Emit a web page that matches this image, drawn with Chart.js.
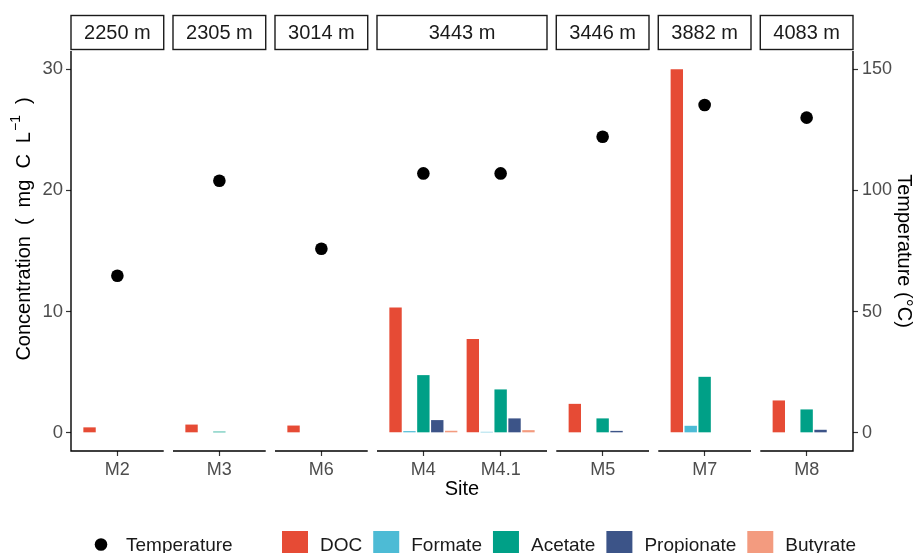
<!DOCTYPE html>
<html>
<head>
<meta charset="utf-8">
<script src="https://cdn.jsdelivr.net/npm/chart.js@4/dist/chart.umd.min.js"></script>
<style>
  html, body { margin: 0; padding: 0; background: #ffffff; }
  #wrap { width: 916px; height: 553px; }
</style>
</head>
<body>
<div id="wrap"><canvas id="c" width="916" height="553"></canvas></div>
<script>
// ---- data -------------------------------------------------------------
const sites = ['M2', 'M3', 'M6', 'M4', 'M4.1', 'M5', 'M7', 'M8'];
const depthLabels = ['2250 m', '2305 m', '3014 m', '3443 m', '3446 m', '3882 m', '4083 m'];
const panelSites = [['M2'], ['M3'], ['M6'], ['M4', 'M4.1'], ['M5'], ['M7'], ['M8']];

// temperature (°C), right axis
const temperature = [64.8, 104.0, 75.9, 107.0, 107.0, 122.1, 135.2, 130.0];
// concentrations (mg C L-1), left axis
const doc        = [0.45, 0.68, 0.60, 10.34, 7.75, 2.39, 30.0, 2.67];
const formate    = [null, null, null, 0.14, 0.08, null, 0.58, null];
const acetate    = [null, 0.10, null, 4.76, 3.58, 1.19, 4.62, 1.93];
const propionate = [null, null, null, 1.05, 1.19, 0.16, null, 0.25];
const butyrate   = [null, null, null, 0.17, 0.22, null, null, null];

const concTicks = [0, 10, 20, 30];
const tempTicks = [0, 50, 100, 150];

// ---- styling ------------------------------------------------------------
const seriesNames = ['DOC', 'Formate', 'Acetate', 'Propionate', 'Butyrate'];
const seriesValues = [doc, formate, acetate, propionate, butyrate];
const seriesColors = ['#E64B35', '#4DBBD5', '#00A087', '#3C5488', '#F39B7F'];
const FONT = "'Liberation Sans', Arial, Helvetica, sans-serif";
const TEXT_GREY = '#4d4d4d';

// ---- facet layout in x-axis units ---------------------------------------
const EXPAND = 0.6;   // padding each side of a panel's categories
const GAP = 0.12;     // space between panels
const DODGE = 0.18;   // spacing of dodged bars
const siteX = {};
const panels = [];
let cursor = 0;
panelSites.forEach((list, p) => {
  const left = cursor;
  list.forEach((s, i) => { siteX[s] = left + EXPAND + i; });
  const right = left + 2 * EXPAND + list.length - 1;
  panels.push({ left, right, label: depthLabels[p] });
  cursor = right + GAP;
});
const xMax = cursor - GAP;

// ---- datasets -----------------------------------------------------------
const barSets = seriesNames.map((name, k) => ({
  type: 'bar',
  label: name,
  data: sites.map((s, i) => ({ x: siteX[s] + (k - 2) * DODGE, y: seriesValues[k][i] })),
  backgroundColor: seriesColors[k],
  borderWidth: 0,
  grouped: false,
  categoryPercentage: 1,
  barPercentage: 0.89,
  yAxisID: 'y',
  order: 1
}));

const tempSet = {
  type: 'scatter',
  label: 'Temperature',
  data: sites.map((s, i) => ({ x: siteX[s], y: temperature[i] })),
  backgroundColor: '#000000',
  borderWidth: 0,
  pointRadius: 6.3,
  pointHoverRadius: 6.3,
  yAxisID: 'y2',
  order: 0
};

// left axis title, with a raised exponent on L
function drawConcTitle(ctx, cx, cy) {
  const big = '20px ' + FONT;
  const small = '14px ' + FONT;
  const gap = 11;
  const tokens = [
    { t: 'Concentration', f: big, dy: 0, after: gap },
    { t: '(', f: big, dy: 0, after: gap },
    { t: 'mg', f: big, dy: 0, after: gap },
    { t: 'C', f: big, dy: 0, after: gap },
    { t: 'L', f: big, dy: 0, after: 1 },
    { t: '\u22121', f: small, dy: -8, after: gap },
    { t: ')', f: big, dy: 0, after: 0 }
  ];
  let total = 0;
  tokens.forEach(k => { ctx.font = k.f; k.w = ctx.measureText(k.t).width; total += k.w + k.after; });
  ctx.save();
  ctx.translate(cx, cy);
  ctx.rotate(-Math.PI / 2);
  ctx.fillStyle = '#000000';
  ctx.textAlign = 'left';
  ctx.textBaseline = 'middle';
  let x = -total / 2;
  tokens.forEach(k => {
    ctx.font = k.f;
    ctx.fillText(k.t, x, k.dy);
    x += k.w + k.after;
  });
  ctx.restore();
}

// ---- strips, panel axis lines, titles and legend ------------------------
const facetPlugin = {
  id: 'facets',
  afterDraw(chart) {
    const ctx = chart.ctx;
    const xs = chart.scales.x;
    const area = chart.chartArea;
    ctx.save();

    // strips with depth labels
    panels.forEach(p => {
      const l = xs.getPixelForValue(p.left);
      const r = xs.getPixelForValue(p.right);
      ctx.fillStyle = '#ffffff';
      ctx.strokeStyle = '#1a1a1a';
      ctx.lineWidth = 1.4;
      ctx.fillRect(l, 15.5, r - l, 34);
      ctx.strokeRect(l, 15.5, r - l, 34);
      ctx.fillStyle = '#1a1a1a';
      ctx.font = '20px ' + FONT;
      ctx.textAlign = 'center';
      ctx.textBaseline = 'middle';
      ctx.fillText(p.label, (l + r) / 2, 33);
    });

    // axis lines
    ctx.strokeStyle = '#000000';
    ctx.lineWidth = 1.4;
    ctx.beginPath();
    panels.forEach(p => {
      ctx.moveTo(xs.getPixelForValue(p.left), area.bottom);
      ctx.lineTo(xs.getPixelForValue(p.right), area.bottom);
    });
    ctx.moveTo(area.left, area.top);
    ctx.lineTo(area.left, area.bottom + 0.7);
    ctx.moveTo(area.right, area.top);
    ctx.lineTo(area.right, area.bottom + 0.7);
    ctx.stroke();

    drawConcTitle(ctx, 24, 229);

    // legend
    const baseY = 551;
    ctx.font = '19px ' + FONT;
    ctx.textAlign = 'left';
    ctx.textBaseline = 'alphabetic';
    ctx.fillStyle = '#000000';
    ctx.beginPath();
    ctx.arc(101, 544.5, 6.3, 0, Math.PI * 2);
    ctx.fill();
    ctx.fillStyle = '#1a1a1a';
    ctx.fillText(tempSet.label, 126, baseY);

    let x = 282;
    barSets.forEach(ds => {
      ctx.fillStyle = ds.backgroundColor;
      ctx.fillRect(x, 531, 26, 26);
      ctx.fillStyle = '#1a1a1a';
      const tx = x + 26 + 12;
      ctx.fillText(ds.label, tx, baseY);
      x = tx + ctx.measureText(ds.label).width + 11;
    });
    ctx.restore();
  }
};

const tickGrid = {
  display: true,
  drawOnChartArea: false,
  drawTicks: true,
  tickLength: 5,
  tickWidth: 1.2,
  tickColor: '#333333',
  offset: false
};

new Chart(document.getElementById('c'), {
  type: 'bar',
  data: { datasets: [...barSets, tempSet] },
  plugins: [facetPlugin],
  options: {
    responsive: false,
    animation: false,
    devicePixelRatio: 1,
    layout: { padding: { top: 51, left: 0, right: 0, bottom: 0 } },
    plugins: { legend: { display: false }, tooltip: { enabled: false } },
    scales: {
      x: {
        type: 'linear',
        min: 0,
        max: xMax,
        offset: false,
        grid: tickGrid,
        border: { display: false },
        afterBuildTicks: sc => { sc.ticks = sites.map(s => ({ value: siteX[s] })); },
        ticks: {
          autoSkip: false,
          maxRotation: 0,
          padding: 3,
          color: TEXT_GREY,
          font: { family: FONT, size: 18 },
          callback: (v, i) => sites[i]
        },
        title: {
          display: true,
          text: 'Site',
          color: '#000000',
          font: { family: FONT, size: 20 },
          padding: { top: 0, bottom: 52 }
        },
        afterFit: sc => { sc.height = 102; }
      },
      y: {
        type: 'linear',
        position: 'left',
        min: -1.5,
        max: 31.5,
        grid: tickGrid,
        border: { display: false },
        afterBuildTicks: sc => { sc.ticks = concTicks.map(v => ({ value: v })); },
        ticks: { padding: 3, color: TEXT_GREY, font: { family: FONT, size: 18.5 } },
        afterFit: sc => { sc.width = 71; }
      },
      y2: {
        type: 'linear',
        position: 'right',
        min: -7.5,
        max: 157.5,
        grid: tickGrid,
        border: { display: false },
        afterBuildTicks: sc => { sc.ticks = tempTicks.map(v => ({ value: v })); },
        ticks: { padding: 4, color: TEXT_GREY, font: { family: FONT, size: 18 } },
        title: {
          display: true,
          text: 'Temperature (°C)',
          color: '#000000',
          font: { family: FONT, size: 20 },
          padding: { top: 0, bottom: 0 }
        },
        afterFit: sc => { sc.width = 63; }
      }
    }
  }
});
</script>
</body>
</html>
